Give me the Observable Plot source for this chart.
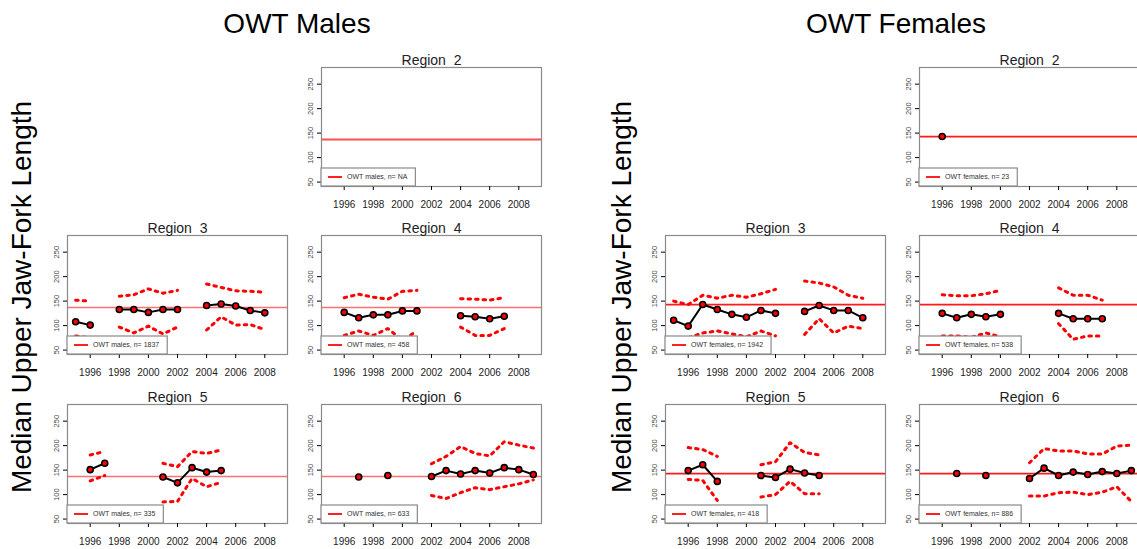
<!DOCTYPE html>
<html><head><meta charset="utf-8">
<script src="https://cdn.jsdelivr.net/npm/d3@7"></script>
<script src="https://cdn.jsdelivr.net/npm/@observablehq/plot@0.6"></script>
<style>
body{margin:0;background:#fff;font-family:"Liberation Sans",Arial,sans-serif;}
#root{position:relative;width:1137px;height:549px;overflow:hidden;background:#fff;}
.big{position:absolute;font-size:28px;color:#000;white-space:nowrap;line-height:1;}
</style></head><body><div id="root"></div>
<script>
// ---- data ----
const years = [1995,1996,1997,1998,1999,2000,2001,2002,2003,2004,2005,2006,2007,2008,2009];
const xTicks = [1996,1998,2000,2002,2004,2006,2008];
const yTicks = [50,100,150,200,250];
const _ = null;

const maleRef = 137;
const femaleRef = 143;

const maleR2Median = [_,_,_,_,_,_,_,_,_,_,_,_,_,_,_];
const maleR2Upper  = [_,_,_,_,_,_,_,_,_,_,_,_,_,_,_];
const maleR2Lower  = [_,_,_,_,_,_,_,_,_,_,_,_,_,_,_];
const maleR3Median = [108,101,_,133,133,127,133,133,_,141,144,140,131,126,_];
const maleR3Upper  = [152,150,_,160,163,175,166,172,_,185,178,171,170,168,_];
const maleR3Lower  = [79,75,_,97,85,99,83,97,_,91,118,101,102,92,_];
const maleR4Median = [_,127,116,122,122,130,130,_,_,120,118,114,119,_,_];
const maleR4Upper  = [_,157,164,158,154,170,172,_,_,155,154,152,157,_,_];
const maleR4Lower  = [_,80,89,80,94,70,89,_,_,97,80,80,94,_,_];
const maleR5Median = [_,151,164,_,_,_,136,124,155,146,149,_,_,_,_];
const maleR5Upper  = [_,181,188,_,_,_,164,157,188,184,191,_,_,_,_];
const maleR5Lower  = [_,128,139,_,_,_,85,86,133,116,125,_,_,_,_];
const maleR6Median = [_,_,136,_,139,_,_,137,149,142,149,144,155,151,141];
const maleR6Upper  = [_,_,_,_,_,_,_,163,178,198,184,179,208,201,195];
const maleR6Lower  = [_,_,_,_,_,_,_,98,92,104,114,110,116,122,130];

const femaleR2Median = [_,143,_,_,_,_,_,_,_,_,_,_,_,_,_];
const femaleR2Upper  = [_,_,_,_,_,_,_,_,_,_,_,_,_,_,_];
const femaleR2Lower  = [_,_,_,_,_,_,_,_,_,_,_,_,_,_,_];
const femaleR3Median = [111,99,143,133,123,117,131,125,_,129,141,131,131,116,_];
const femaleR3Upper  = [150,143,162,156,162,158,165,174,_,191,187,179,162,156,_];
const femaleR3Lower  = [74,75,85,89,83,77,89,79,_,82,114,85,99,94,_];
const femaleR4Median = [_,125,116,123,118,123,_,_,_,125,114,114,114,_,_];
const femaleR4Upper  = [_,163,161,161,165,172,_,_,_,177,162,162,152,_,_];
const femaleR4Lower  = [_,79,79,76,85,77,_,_,_,104,72,79,79,_,_];
const femaleR5Median = [_,149,161,127,_,_,139,135,152,144,139,_,_,_,_];
const femaleR5Upper  = [_,196,192,178,_,_,161,167,206,186,181,_,_,_,_];
const femaleR5Lower  = [_,131,129,88,_,_,95,100,127,102,102,_,_,_,_];
const femaleR6Median = [_,_,143,_,139,_,_,133,154,139,146,141,147,143,149];
const femaleR6Upper  = [_,_,_,_,_,_,_,165,194,189,189,183,183,199,201];
const femaleR6Lower  = [_,_,_,_,_,_,_,97,97,104,105,100,105,116,86];

const maleN   = {2:"NA", 3:"1837", 4:"458", 5:"335", 6:"633"};
const femaleN = {2:"23", 3:"1942", 4:"538", 5:"418", 6:"886"};

// ---- layout ----
const ML = 34, MR = 2, MT = 24, MB = 26, BOXW = 220, BOXH = 119;
const xDomain = [1994.44, 2009.56];
const yDomain = [41, 284];
const root = document.getElementById("root");

function panel(cfg) {
  const rows = years.map((yr, i) => ({year: yr, median: cfg.median[i], upper: cfg.upper[i], lower: cfg.lower[i]}));
  const pts = rows.filter(d => d.median != null);
  const plot = Plot.plot({
    width: BOXW + ML + MR, height: BOXH + MT + MB,
    marginLeft: ML, marginRight: MR, marginTop: MT, marginBottom: MB,
    x: {domain: xDomain, label: null}, y: {domain: yDomain, label: null},
    style: {fontFamily: '"Liberation Sans", Arial, sans-serif', background: "transparent", overflow: "visible", color: "#222"},
    marks: [
      Plot.ruleY([cfg.ref], {stroke: cfg.refColor, strokeWidth: cfg.refWidth}),
      Plot.line(rows, {x: "year", y: "upper", stroke: "#ff0000", strokeWidth: 3, strokeDasharray: "2.5,5"}),
      Plot.line(rows, {x: "year", y: "lower", stroke: "#ff0000", strokeWidth: 3, strokeDasharray: "2.5,5"}),
      Plot.line(rows, {x: "year", y: "median", stroke: "#000", strokeWidth: 2}),
      Plot.dot(pts, {x: "year", y: "median", r: 3, fill: "#ff0000", stroke: "#000", strokeWidth: 1.6}),
      Plot.frame({stroke: "#8a8a8a", strokeWidth: 1.2}),
      Plot.axisX({ticks: xTicks, tickFormat: d => String(d), tickSize: 4, tickPadding: 10, fontSize: 10, stroke: "#000", label: null}),
      Plot.axisY({ticks: yTicks, tickSize: 4, tickPadding: 5, tickRotate: -90, fontSize: 7.5, stroke: "#000", fill: "#444", label: null}),
      Plot.text([`Region\u00a0 ${cfg.region}`], {frameAnchor: "top", dy: -12, fontSize: 14, fill: "#222"})
    ]
  });
  plot.style.position = "absolute";
  plot.style.left = (cfg.boxLeft - ML) + "px";
  plot.style.top = (cfg.boxTop - MT) + "px";
  root.appendChild(plot);
  // legend box
  const svg = d3.select(plot);
  const g = svg.append("g").attr("font-family", '"Liberation Sans", Arial, sans-serif').attr("text-anchor", "start");
  const ly = MT + BOXH - 18;
  const rect = g.append("rect").attr("x", ML).attr("y", ly).attr("height", 18)
    .attr("fill", "#fff").attr("stroke", "#8a8a8a").attr("stroke-width", 1.2);
  g.append("line").attr("x1", ML + 7).attr("x2", ML + 21).attr("y1", ly + 9).attr("y2", ly + 9)
    .attr("stroke", "#ff2020").attr("stroke-width", 2);
  const t = g.append("text").attr("x", ML + 26).attr("y", ly + 9).attr("dy", "0.35em")
    .attr("text-anchor", "start").attr("font-size", 7).attr("fill", "#333").text(cfg.legend);
  const tl = t.node().getComputedTextLength();
  rect.attr("width", 26 + tl + 8);
}

const colsMale = [67, 321], colsFemale = [665, 919], rowTops = [67, 235, 404];
const maleColor = "#ff7070", femaleColor = "#ff1a1a";

const panels = [
  {sex: "m", region: 2, c: 1, r: 0, median: maleR2Median, upper: maleR2Upper, lower: maleR2Lower},
  {sex: "m", region: 3, c: 0, r: 1, median: maleR3Median, upper: maleR3Upper, lower: maleR3Lower},
  {sex: "m", region: 4, c: 1, r: 1, median: maleR4Median, upper: maleR4Upper, lower: maleR4Lower},
  {sex: "m", region: 5, c: 0, r: 2, median: maleR5Median, upper: maleR5Upper, lower: maleR5Lower},
  {sex: "m", region: 6, c: 1, r: 2, median: maleR6Median, upper: maleR6Upper, lower: maleR6Lower},
  {sex: "f", region: 2, c: 1, r: 0, median: femaleR2Median, upper: femaleR2Upper, lower: femaleR2Lower},
  {sex: "f", region: 3, c: 0, r: 1, median: femaleR3Median, upper: femaleR3Upper, lower: femaleR3Lower},
  {sex: "f", region: 4, c: 1, r: 1, median: femaleR4Median, upper: femaleR4Upper, lower: femaleR4Lower},
  {sex: "f", region: 5, c: 0, r: 2, median: femaleR5Median, upper: femaleR5Upper, lower: femaleR5Lower},
  {sex: "f", region: 6, c: 1, r: 2, median: femaleR6Median, upper: femaleR6Upper, lower: femaleR6Lower}
];

for (const p of panels) {
  const male = p.sex === "m";
  panel({
    ...p,
    ref: male ? maleRef : femaleRef,
    refColor: male ? (p.region === 2 ? "#ff5050" : maleColor) : femaleColor,
    refWidth: male ? (p.region === 2 ? 1.8 : 1.3) : 1.8,
    legend: male ? `OWT males, n= ${maleN[p.region]}` : `OWT females, n= ${femaleN[p.region]}`,
    boxLeft: male ? colsMale[p.c] : colsFemale[p.c],
    boxTop: rowTops[p.r]
  });
}

// titles and big y labels
function addDiv(text, css) {
  const d = document.createElement("div");
  d.className = "big"; d.textContent = text;
  Object.assign(d.style, css);
  root.appendChild(d);
  return d;
}
addDiv("OWT Males", {left: "297px", top: "10px", transform: "translateX(-50%)"});
addDiv("OWT Females", {left: "896px", top: "10px", transform: "translateX(-50%)"});
addDiv("Median Upper Jaw-Fork Length", {left: "22px", top: "297px", transform: "translate(-50%,-50%) rotate(-90deg)"});
addDiv("Median Upper Jaw-Fork Length", {left: "622px", top: "297px", transform: "translate(-50%,-50%) rotate(-90deg)"});
</script></body></html>
